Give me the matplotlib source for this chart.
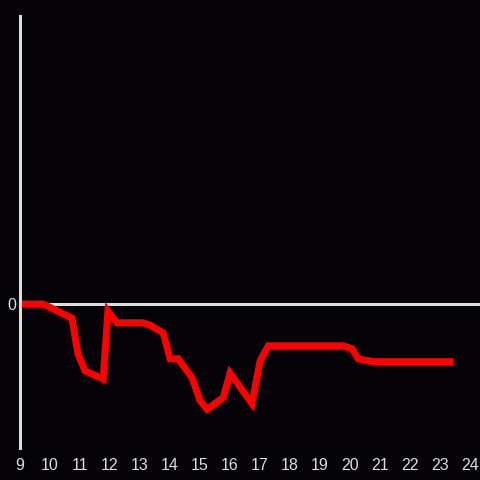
import matplotlib.pyplot as plt

# values
hours = [9.0, 9.77, 10.73, 10.93, 11.17, 11.77, 11.93, 12.23, 13.1, 13.33,
         13.77, 14.0, 14.27, 14.73, 15.0, 15.23, 15.77, 16.0, 16.73, 17.0,
         17.27, 19.77, 20.07, 20.27, 20.77, 23.33]
values = [0.0, 0.0, -0.097, -0.347, -0.464, -0.52, -0.049, -0.13, -0.13, -0.146,
          -0.2, -0.38, -0.38, -0.51, -0.67, -0.73, -0.65, -0.48, -0.69, -0.395,
          -0.29, -0.29, -0.31, -0.38, -0.40, -0.40]
xticks = list(range(9, 25))

bg = '#050307'
fg = '#dddddd'

plt.rcParams['font.family'] = ['Liberation Sans', 'DejaVu Sans']

fig = plt.figure(figsize=(4.8, 4.8), dpi=100, facecolor=bg)
ax = fig.add_axes([20/480, 32/480, 460/480, 432/480])
ax.set_facecolor(bg)

ax.axhline(0, color=fg, lw=2.2, zorder=1)
ax.plot(hours, values, color='#ff0000', lw=5, solid_joinstyle='miter', zorder=2)

ax.set_xlim(9, 24.33)
ax.set_ylim(-1.0, 2.0)

for s in ['top', 'right', 'bottom']:
    ax.spines[s].set_visible(False)
ax.spines['left'].set_color(fg)
ax.spines['left'].set_linewidth(2.2)

ax.set_xticks(xticks)
ax.set_yticks([0])
ax.tick_params(axis='both', length=0, colors=fg, labelsize=11.5)
ax.tick_params(axis='x', pad=7)
ax.tick_params(axis='y', pad=3)

fig.savefig('out.png', facecolor=bg)
